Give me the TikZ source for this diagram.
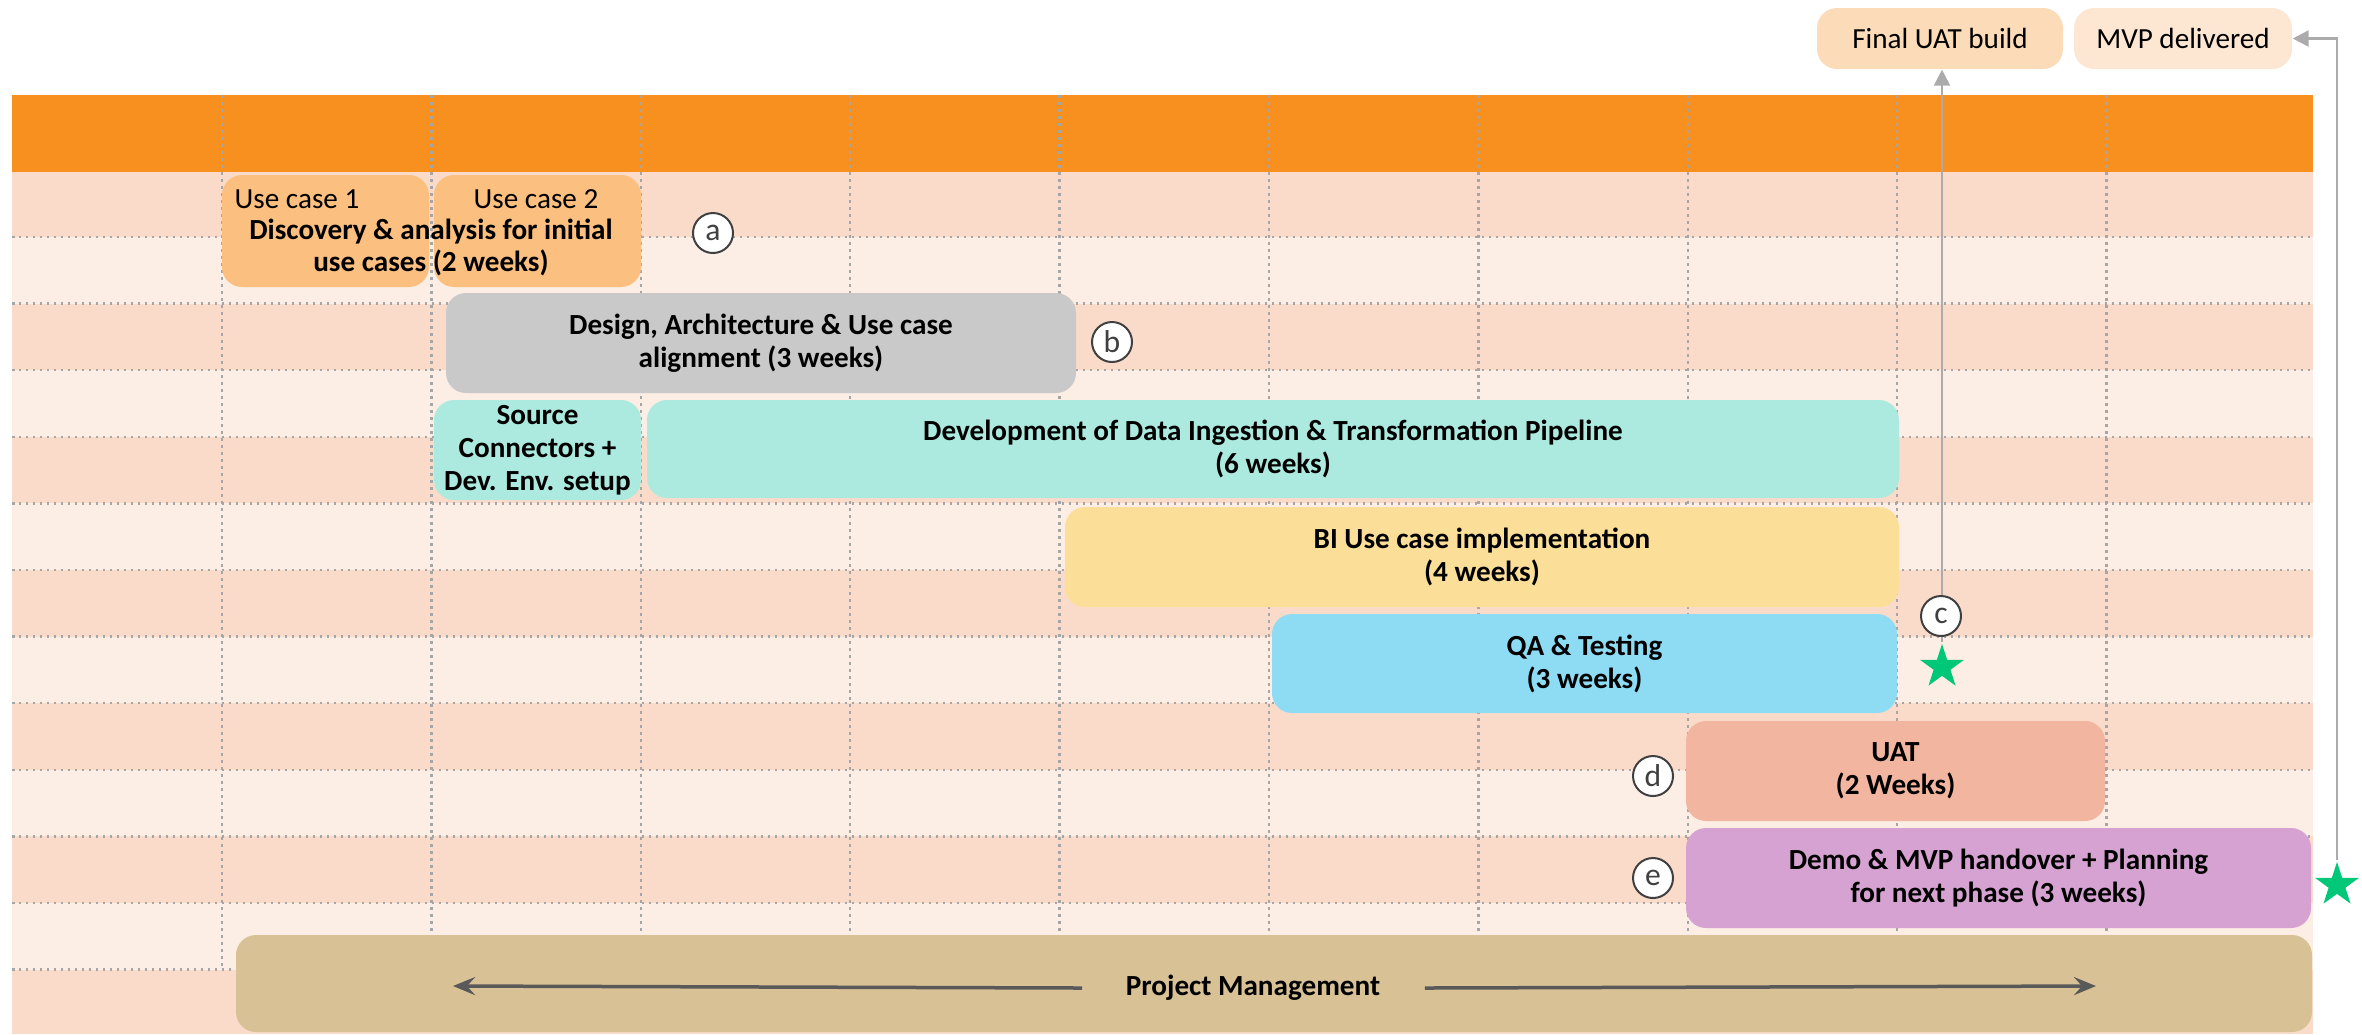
\documentclass[tikz,border=0pt]{standalone}
\usepackage{fontspec}
\setmainfont{Carlito}
\usetikzlibrary{shapes.geometric,arrows.meta}
\definecolor{hdr}{HTML}{F7901E}
\definecolor{stD}{HTML}{FADBCA}
\definecolor{stL}{HTML}{FCEDE5}
\definecolor{gridc}{HTML}{A6A6A6}
\definecolor{ucc}{HTML}{FBC080}
\definecolor{grayc}{HTML}{C9C9C9}
\definecolor{tealc}{HTML}{ACEAE0}
\definecolor{bic}{HTML}{FBDE97}
\definecolor{qac}{HTML}{8DDCF4}
\definecolor{uatc}{HTML}{F2B5A0}
\definecolor{democ}{HTML}{D5A2D2}
\definecolor{pmc}{HTML}{D8C195}
\definecolor{fuatc}{HTML}{FCDCB8}
\definecolor{mvpc}{HTML}{FDE7D3}
\definecolor{starc}{HTML}{00C878}
\definecolor{linec}{HTML}{ABABAB}
\definecolor{pmarr}{HTML}{595959}
\definecolor{circc}{HTML}{404040}
\newcommand\mybold{\fontsize{8.3pt}{9.4pt}\selectfont\bfseries}
\newcommand\myreg{\fontsize{8.3pt}{9.4pt}\selectfont}
\begin{document}
\begin{tikzpicture}[x=0.1mm,y=-0.1mm,
  bar/.style={rectangle,rounded corners=2mm,inner sep=0pt,align=center,font=\mybold},
  gridline/.style={gridc,line width=0.25mm,dash pattern=on 0.25mm off 0.45mm},
  lblcirc/.style={circle,draw=circc,line width=0.2mm,fill=white,minimum size=4mm,inner sep=0pt,font=\fontsize{9pt}{10pt}\selectfont,text=circc},
  greenstar/.style={star,star points=5,star point ratio=2.6,fill=starc,minimum size=4.6mm,inner sep=0pt},
  garrow/.style={linec,line width=0.25mm,-{Triangle[length=1.6mm,width=1.6mm]}},
  pmarrow/.style={pmarr,line width=0.35mm,-{Stealth[length=2.2mm,width=1.8mm,inset=0.8mm]}},
  plain/.style={inner sep=0pt,font=\myreg,align=center}]
\useasboundingbox (0,0) rectangle (2362,1034);
% header and stripes
\fill[hdr] (12,95) rectangle (2313,172);
\foreach \a/\b/\c in {172/237/stD,237/303.6/stL,303.6/370.2/stD,370.2/436.8/stL,436.8/503.4/stD,503.4/570/stL,570/636.6/stD,636.6/703.2/stL,703.2/769.8/stD,769.8/836.4/stL,836.4/903/stD,903/969.6/stL,969.6/1034/stD}
  \fill[\c] (12,\a) rectangle (2313,\b);
% grid
\foreach \y in {237,303.6,370.2,436.8,503.4,570,636.6,703.2,769.8,836.4,903,969.6}
  \draw[gridline] (12,\y) -- (2313,\y);
\foreach \x in {222,431.4,640.8,850.2,1059.6,1269,1478.4,1687.8,1897.2,2106.6}
  \draw[gridline] (\x,95) -- (\x,969.6);
% milestone boxes
\node[bar,fill=fuatc,font=\myreg,minimum width=24.6mm,minimum height=6.1mm] (fuat) at (1940,38.5) {Final UAT build};
\node[bar,fill=mvpc,font=\myreg,minimum width=21.8mm,minimum height=6.1mm] (mvp) at (2183,38.5) {MVP delivered};
% task bars
\node[bar,fill=ucc,minimum width=20.7mm,minimum height=11.2mm] (uc1) at (325.5,231) {};
\node[bar,fill=ucc,minimum width=20.7mm,minimum height=11.2mm] (uc2) at (537.5,231) {};
\node[plain,anchor=west] (uc1t) at (234,199) {Use case 1};
\node[plain] (uc2t) at (536,199) {Use case 2};
\node[plain,font=\fontsize{8.3pt}{9.1pt}\selectfont\bfseries] (disc) at (431,247) {Discovery \& analysis for initial\\use cases (2 weeks)};
\node[bar,fill=grayc,minimum width=63mm,minimum height=10mm] (design) at (761,343) {Design, Architecture \& Use case\\alignment (3 weeks)};
\node[bar,fill=tealc,minimum width=20.7mm,minimum height=10mm] (source) at (537.5,450) {Source\\Connectors +\\Dev. Env. setup};
\node[bar,fill=tealc,minimum width=125.2mm,minimum height=9.8mm] (dev) at (1273,449) {Development of Data Ingestion \& Transformation Pipeline\\(6 weeks)};
\node[bar,fill=bic,minimum width=83.4mm,minimum height=10mm] (bi) at (1482,557) {BI Use case implementation\\(4 weeks)};
\node[bar,fill=qac,minimum width=62.5mm,minimum height=9.9mm] (qa) at (1584.5,663.5) {QA \& Testing\\(3 weeks)};
\node[bar,fill=uatc,minimum width=41.9mm,minimum height=10mm] (uat) at (1895.5,771) {UAT\\(2 Weeks)};
\node[bar,fill=democ,minimum width=62.5mm,minimum height=10mm] (demo) at (1998.5,878) {Demo \& MVP handover + Planning\\for next phase (3 weeks)};
\node[bar,fill=pmc,minimum width=207.6mm,minimum height=9.7mm] (pm) at (1274,983.5) {};
\node[plain,font=\mybold] (pmt) at (1253,988) {Project Management};
\coordinate (pmL) at (453,986);
\coordinate (pmR) at (2096,986);
\draw[pmarrow] ([xshift=-4.3mm]pmt.west) -- (pmL);
\draw[pmarrow] ([xshift=4.4mm]pmt.east) -- (pmR);
% stars and connectors
\node[greenstar] (s1) at (1942,667) {};
\node[greenstar] (s2) at (2337,885) {};
\draw[garrow] (s1.north) -- (s1.north |- fuat.south);
\draw[garrow] (s2.north) |- (mvp.east);
% letter markers
\node[lblcirc] (ca) at (713,233) {a};
\node[lblcirc] (cb) at (1112,342) {b};
\node[lblcirc] (cc) at (1941,616) {c};
\node[lblcirc] (cd) at (1653,776) {d};
\node[lblcirc] (ce) at (1653,878) {e};
\end{tikzpicture}
\end{document}
